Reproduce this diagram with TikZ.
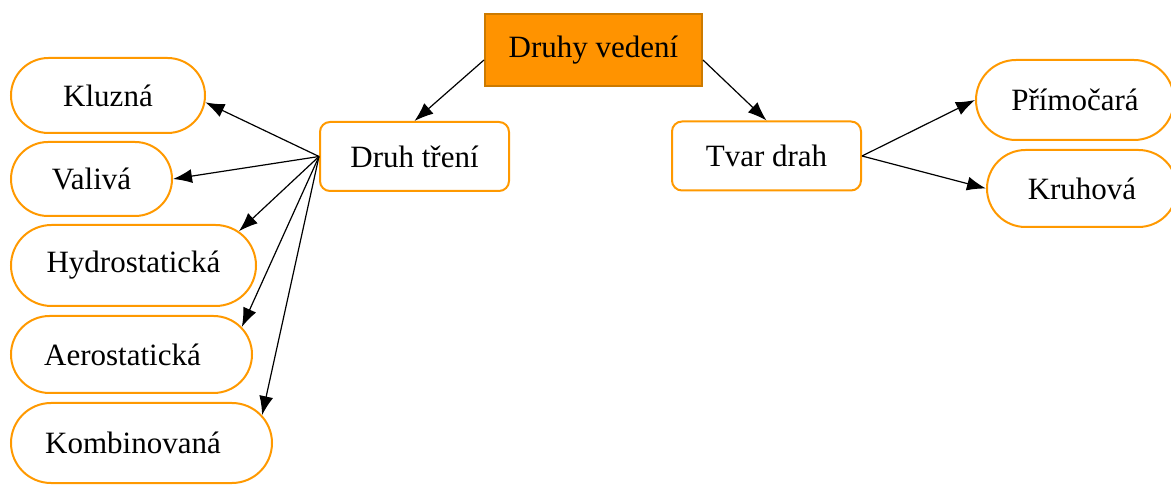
\documentclass[tikz,border=0pt]{standalone}
\usepackage{fontspec}
\setmainfont{Liberation Serif}
\usetikzlibrary{arrows.meta,positioning,shapes.misc}
\definecolor{rim}{RGB}{255,153,0}
\definecolor{rootfill}{RGB}{255,147,0}
\definecolor{rootrim}{RGB}{204,122,0}

\begin{document}
\begin{tikzpicture}[x=1pt,y=-1pt,font=\fontsize{31}{36}\selectfont,
  >={Latex[length=19pt,width=14pt]},
  root/.style={rectangle,draw=rootrim,fill=rootfill,line width=2pt,minimum width=217pt,minimum height=72pt},
  group/.style={rectangle,rounded corners=10pt,draw=rim,line width=2pt,minimum width=189pt,minimum height=69pt},
  leaf/.style={rounded rectangle,draw=rim,line width=2pt,inner xsep=2pt}]
  \useasboundingbox (0,0) rectangle (1171,486);
  \node[root]  (dv) at (593.5,50)    {Druhy vedení};
  \node[group] (dt) at (414.5,156.5) {Druh tření};
  \node[group] (td) at (766.5,156)   {Tvar drah};
  % levy sloupec
  \node[leaf,minimum width=198pt,minimum height=75pt] (kl) at (108,95.5)  {Kluzná};
  \node[leaf,minimum width=165pt,minimum height=74pt] (va) at (91.5,179)  {Valivá};
  \node[leaf,minimum width=249pt,minimum height=81pt] (hy) at (133.5,265.5) {Hydrostatická};
  \node[leaf,minimum width=245pt,minimum height=77pt] (ae) at (131.5,354.5) {Aerostatická\kern18pt};
  \node[leaf,minimum width=265pt,minimum height=80pt] (ko) at (141.5,443) {Kombinovaná\kern17pt};
  % pravy sloupec
  \node[leaf,minimum width=202pt,minimum height=80pt] (pr) at (1075,100)  {Přímočará};
  \node[leaf,minimum width=194pt,minimum height=77pt] (kr) at (1082,188.5) {Kruhová};
  \path[->,line width=1.2pt]
            ([yshift=-10pt]dv.west) edge (dt.north)
            ([yshift=-10pt]dv.east) edge (td.north)
            (dt.west) edge (kl.-4)
            (dt.west) edge (va.east)
            (dt.west) edge (hy.18)
            (dt.west) edge (ae.14)
            (dt.west) edge (ko.13)
            (td.east) edge (pr.west)
            (td.east) edge (kr.west);
\end{tikzpicture}
\end{document}
